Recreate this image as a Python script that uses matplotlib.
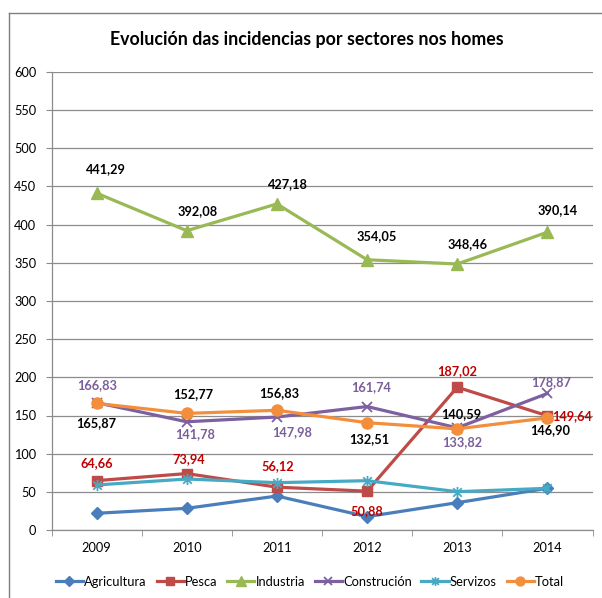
import numpy as np
import matplotlib.pyplot as plt
from matplotlib.lines import Line2D
from matplotlib.path import Path

plt.rcParams['font.family'] = ['Lato', 'DejaVu Sans']

# --- datos ---
anos = ['2009', '2010', '2011', '2012', '2013', '2014']
agricultura = [21.9, 28.4, 44.5, 17.5, 35.8, 54.6]
pesca = [64.66, 73.94, 56.12, 50.88, 187.02, 149.64]
industria = [441.29, 392.08, 427.18, 354.05, 348.46, 390.14]
construcion = [166.83, 141.78, 147.98, 161.74, 133.82, 178.87]
servizos = [59.0, 66.8, 62.0, 64.6, 50.2, 54.6]
total = [165.87, 152.77, 156.83, 140.59, 132.51, 146.90]
# etiquetas tal como aparecen no gráfico (2012/2013 do total están trocadas)
total_etiquetas = ['165,87', '152,77', '156,83', '132,51', '140,59', '146,90']

def fmt(v):
    return f'{v:.2f}'.replace('.', ',')

# marcador asterisco (estilo Excel)
ast = Path([(-1, -1), (1, 1), (-1, 1), (1, -1), (0, -1.3), (0, 1.3)],
           [Path.MOVETO, Path.LINETO, Path.MOVETO, Path.LINETO, Path.MOVETO, Path.LINETO])

fig = plt.figure(figsize=(6.02, 5.98), dpi=100)
ax = fig.add_axes([51.5 / 602, 68 / 598, 541 / 602, 458 / 598])

x = np.arange(len(anos))
series = [
    ('Agricultura', agricultura, '#4A7EBB', dict(marker='D', ms=6)),
    ('Pesca', pesca, '#BE4B48', dict(marker='s', ms=7.5)),
    ('Industria', industria, '#98B954', dict(marker='^', ms=9)),
    ('Construción', construcion, '#7D60A0', dict(marker='x', ms=7.5, mew=1.3)),
    ('Servizos', servizos, '#46AAC5', dict(marker=ast, ms=8, mew=1.3, mfc='none')),
    ('Total', total, '#F38E3C', dict(marker='o', ms=8)),
]
for nome, vals, cor, mk in series:
    ax.plot(x, vals, color=cor, lw=2.3, label=nome, mec=cor, **mk, zorder=3)

# etiquetas de datos (desprazamento en px: dx, dy)
def etiqueta(i, v, txt, cor, dx, dy, ha='center'):
    ax.annotate(txt, (x[i], v), xytext=(dx * 0.72, dy * 0.72), textcoords='offset points',
                ha=ha, va='center', fontsize=9.2, fontweight='bold', color=cor, zorder=5)

ind_off = [(9, 24), (11, 20), (11, 20), (10, 24), (10, 20), (10, 22)]
for i, v in enumerate(industria):
    etiqueta(i, v, fmt(v), 'black', *ind_off[i])

pes_off = [(0, 18), (2, 14), (1, 21), (0, -20), (0, 16), (25, 0)]
for i, v in enumerate(pesca):
    etiqueta(i, v, fmt(v), '#C00000', *pes_off[i])

con_off = [(1, 18), (8, -12), (15, -15), (4, 19), (5, -14), (4, 11)]
for i, v in enumerate(construcion):
    etiqueta(i, v, fmt(v), '#7A5E9A', *con_off[i])

tot_off = [(0, -20), (6, 19), (2, 17), (2, -16), (4, 15), (3, -12)]
for i, v in enumerate(total):
    etiqueta(i, v, total_etiquetas[i], 'black', *tot_off[i])

ax.set_xlim(-0.5, len(anos) - 0.5)
ax.set_ylim(0, 600)
ax.set_yticks(np.arange(0, 601, 50))
ax.set_xticks(x)
ax.set_xticklabels(anos)
ax.set_xticks(np.arange(-0.5, len(anos), 1), minor=True)
ax.tick_params(axis='x', which='major', length=0, pad=9, labelsize=9.2)
ax.tick_params(axis='x', which='minor', length=4, color='#8c8c8c')
ax.tick_params(axis='y', length=4, color='#8c8c8c', pad=7, labelsize=9.2)
ax.grid(axis='y', color='#8c8c8c', lw=0.9)
ax.set_axisbelow(True)
for s in ['top', 'right']:
    ax.spines[s].set_visible(False)
for s in ['left', 'bottom']:
    ax.spines[s].set_color('#8c8c8c')
    ax.spines[s].set_linewidth(0.9)

fig.text(307 / 602, 1 - 40 / 598, 'Evolución das incidencias por sectores nos homes',
         ha='center', va='center', fontsize=12.8, fontweight='bold')

ax.legend(loc='center', bbox_to_anchor=(310 / 602, 1 - 582 / 598), bbox_transform=fig.transFigure,
          ncol=6, frameon=False, fontsize=9.3, handlelength=2.1, handletextpad=0.1,
          columnspacing=0.75, markerscale=0.8)

# marco do gráfico
fig.add_artist(Line2D([9 / 602, 9 / 602], [0, 1 - 12.7 / 598], transform=fig.transFigure,
                      color='#7f7f7f', lw=1))
fig.add_artist(Line2D([9 / 602, 1], [1 - 12.7 / 598, 1 - 12.7 / 598], transform=fig.transFigure,
                      color='#7f7f7f', lw=1))

fig.savefig('out.png', dpi=100)
